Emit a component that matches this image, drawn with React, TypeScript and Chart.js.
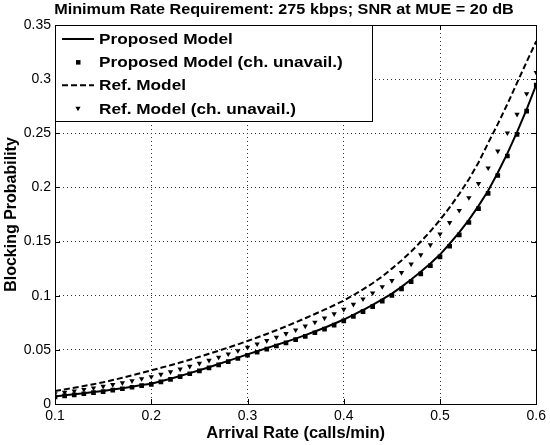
import React, { useEffect, useRef } from "react";
import { Chart, registerables } from "chart.js";

Chart.register(...registerables);

const TITLE = "Minimum Rate Requirement: 275 kbps; SNR at MUE = 20 dB";
const X_LABEL = "Arrival Rate (calls/min)";
const Y_LABEL = "Blocking Probability";
const LEGEND_LABELS = [
  "Proposed Model",
  "Proposed Model (ch. unavail.)",
  "Ref. Model",
  "Ref. Model (ch. unavail.)",
];

const X_MIN = 0.1;
const X_MAX = 0.6;
const X_STEP = 0.1;
const Y_MIN = 0;
const Y_MAX = 0.35;
const Y_STEP = 0.05;

const arrivalRate = [
  0.10, 0.11, 0.12, 0.13, 0.14, 0.15, 0.16, 0.17, 0.18, 0.19,
  0.20, 0.21, 0.22, 0.23, 0.24, 0.25, 0.26, 0.27, 0.28, 0.29,
  0.30, 0.31, 0.32, 0.33, 0.34, 0.35, 0.36, 0.37, 0.38, 0.39,
  0.40, 0.41, 0.42, 0.43, 0.44, 0.45, 0.46, 0.47, 0.48, 0.49,
  0.50, 0.51, 0.52, 0.53, 0.54, 0.55, 0.56, 0.57, 0.58, 0.59,
  0.60,
];

const proposedModel = [
  0.007, 0.008, 0.009, 0.010, 0.011, 0.012, 0.0133, 0.0146, 0.016, 0.0175,
  0.0187, 0.021, 0.0234, 0.0259, 0.0285, 0.0312, 0.034, 0.0369, 0.0398, 0.0428,
  0.0458, 0.0487, 0.0516, 0.0545, 0.0574, 0.0604, 0.0636, 0.0669, 0.0704, 0.0741,
  0.078, 0.0823, 0.0868, 0.0916, 0.0967, 0.102, 0.1082, 0.115, 0.1222, 0.1298,
  0.138, 0.148, 0.1585, 0.170, 0.183, 0.197, 0.2135, 0.2315, 0.251, 0.272,
  0.295,
];

const proposedUnavail = [
  0.0065, 0.0075, 0.0085, 0.0095, 0.0105, 0.0115, 0.0128, 0.0141, 0.0155, 0.017,
  0.0182, 0.0204, 0.0228, 0.0253, 0.0279, 0.0306, 0.0333, 0.0362, 0.0391, 0.042,
  0.045, 0.0478, 0.0507, 0.0536, 0.0564, 0.0594, 0.0625, 0.0658, 0.0692, 0.0729,
  0.0767, 0.0809, 0.0853, 0.09, 0.095, 0.1002, 0.1063, 0.113, 0.1201, 0.1277,
  0.1358, 0.1457, 0.1562, 0.1676, 0.1805, 0.1945, 0.211, 0.229, 0.249, 0.2705,
  0.2945,
];

const refModel = [
  0.012, 0.0135, 0.015, 0.0166, 0.0183, 0.020, 0.0221, 0.0242, 0.0264, 0.0287,
  0.031, 0.0334, 0.0358, 0.0383, 0.0409, 0.0436, 0.0464, 0.0492, 0.0521, 0.0551,
  0.0582, 0.0614, 0.0647, 0.0681, 0.0717, 0.0754, 0.0792, 0.0831, 0.0871, 0.0912,
  0.0955, 0.1005, 0.1058, 0.1115, 0.1178, 0.125, 0.1325, 0.1408, 0.1498, 0.1595,
  0.170, 0.1815, 0.194, 0.2075, 0.223, 0.241, 0.2585, 0.277, 0.2965, 0.316,
  0.335,
];

const refUnavail = [
  0.0095, 0.0107, 0.012, 0.0134, 0.0148, 0.0163, 0.0179, 0.0196, 0.0214, 0.0233,
  0.0252, 0.0274, 0.0297, 0.0322, 0.0348, 0.0375, 0.0403, 0.0432, 0.0462, 0.0492,
  0.0523, 0.0554, 0.0585, 0.0617, 0.065, 0.0684, 0.0719, 0.0755, 0.0793, 0.0832,
  0.0874, 0.092, 0.097, 0.1025, 0.1083, 0.114, 0.1213, 0.1292, 0.1377, 0.147,
  0.157, 0.1675, 0.1787, 0.1905, 0.2035, 0.218, 0.2335, 0.2503, 0.2675, 0.2865,
  0.306,
];

const FONT = "'Liberation Sans', Arial, Helvetica, sans-serif";

const toPoints = (ys: number[]) => arrivalRate.map((x, i) => ({ x, y: ys[i] }));

const fmt = (v: number) => String(Number(v.toFixed(2)));

function stretchText(ctx: CanvasRenderingContext2D, text: string, x: number, y: number, sx: number, align: CanvasTextAlign) {
  ctx.save();
  ctx.translate(x, y);
  ctx.scale(sx, 1);
  ctx.textAlign = align;
  ctx.fillText(text, 0, 0);
  ctx.restore();
}

const framePlugin = {
  id: "frame",
  beforeDraw(chart: any) {
    const ctx = chart.ctx;
    ctx.save();
    ctx.fillStyle = "#fff";
    ctx.fillRect(0, 0, chart.width, chart.height);
    ctx.restore();
  },
  afterDatasetsDraw(chart: any) {
    const { ctx, chartArea, scales } = chart;
    const { left, right, top, bottom } = chartArea;
    ctx.save();
    ctx.strokeStyle = "#000";
    ctx.lineWidth = 1;
    ctx.setLineDash([]);
    const tl = 5;
    ctx.beginPath();
    scales.x.ticks.forEach((t: any) => {
      const px = Math.round(scales.x.getPixelForValue(t.value)) + 0.5;
      ctx.moveTo(px, bottom);
      ctx.lineTo(px, bottom - tl);
      ctx.moveTo(px, top);
      ctx.lineTo(px, top + tl);
    });
    scales.y.ticks.forEach((t: any) => {
      const py = Math.round(scales.y.getPixelForValue(t.value)) + 0.5;
      ctx.moveTo(left, py);
      ctx.lineTo(left + tl, py);
      ctx.moveTo(right, py);
      ctx.lineTo(right - tl, py);
    });
    ctx.stroke();
    ctx.strokeRect(Math.round(left) + 0.5, Math.round(top) + 0.5, Math.round(right - left), Math.round(bottom - top));
    ctx.restore();
  },
  afterDraw(chart: any) {
    const { ctx, chartArea } = chart;
    const { left, top } = chartArea;
    ctx.save();
    // title
    ctx.fillStyle = "#000";
    ctx.font = `bold 15px ${FONT}`;
    ctx.textBaseline = "middle";
    stretchText(ctx, TITLE, 284, 10, 1.08, "center");

    // legend
    const lx = Math.round(left) + 0.5;
    const ly = Math.round(top) + 0.5;
    const lw = 317;
    const lh = 96;
    ctx.fillStyle = "#fff";
    ctx.fillRect(lx, ly, lw, lh);
    ctx.strokeStyle = "#000";
    ctx.lineWidth = 1;
    ctx.strokeRect(lx, ly, lw, lh);

    const rowY = (i: number) => top + 14 + 23.1 * i;
    const s0 = left + 7;
    const s1 = left + 39;
    const mx = left + 23;
    const tx = left + 44;

    // row 0: solid line
    ctx.lineWidth = 2;
    ctx.beginPath();
    ctx.moveTo(s0, rowY(0));
    ctx.lineTo(s1, rowY(0));
    ctx.stroke();
    // row 1: square marker
    ctx.fillStyle = "#000";
    ctx.fillRect(mx - 2, rowY(1) - 2, 4.5, 4.5);
    // row 2: dashed line
    ctx.setLineDash([6, 3]);
    ctx.beginPath();
    ctx.moveTo(s0, rowY(2));
    ctx.lineTo(s1, rowY(2));
    ctx.stroke();
    ctx.setLineDash([]);
    // row 3: down triangle marker
    ctx.beginPath();
    ctx.moveTo(mx - 2.6, rowY(3) - 1.5);
    ctx.lineTo(mx + 2.6, rowY(3) - 1.5);
    ctx.lineTo(mx, rowY(3) + 3);
    ctx.closePath();
    ctx.fill();

    ctx.font = `bold 15.5px ${FONT}`;
    ctx.textBaseline = "middle";
    LEGEND_LABELS.forEach((lab, i) => stretchText(ctx, lab, tx, rowY(i) + 1, 1.11, "left"));
    ctx.restore();
  },
};

export default function App() {
  const canvasRef = useRef<HTMLCanvasElement | null>(null);

  useEffect(() => {
    document.body.style.margin = "0";
    const canvas = canvasRef.current;
    if (!canvas) return;
    const chart = new Chart(canvas, {
      type: "scatter",
      data: {
        datasets: [
          {
            label: LEGEND_LABELS[0],
            data: toPoints(proposedModel),
            showLine: true,
            borderColor: "#000",
            backgroundColor: "#000",
            borderWidth: 2,
            pointRadius: 0,
            tension: 0,
          },
          {
            label: LEGEND_LABELS[1],
            data: toPoints(proposedUnavail),
            showLine: false,
            borderColor: "#000",
            backgroundColor: "#000",
            pointStyle: "rect",
            pointRadius: 3.3,
            pointBorderWidth: 0,
          },
          {
            label: LEGEND_LABELS[2],
            data: toPoints(refModel),
            showLine: true,
            borderColor: "#000",
            backgroundColor: "#000",
            borderWidth: 2,
            borderDash: [6, 3],
            pointRadius: 0,
            tension: 0,
          },
          {
            label: LEGEND_LABELS[3],
            data: toPoints(refUnavail),
            showLine: false,
            borderColor: "#000",
            backgroundColor: "#000",
            pointStyle: "triangle",
            pointRotation: 180,
            pointRadius: 3.1,
            pointBorderWidth: 0,
          },
        ],
      },
      options: {
        responsive: false,
        animation: false,
        devicePixelRatio: 1,
        layout: { padding: { left: 0, right: 11, top: 25, bottom: 0 } },
        plugins: {
          legend: { display: false },
          title: { display: false },
          tooltip: { enabled: false },
        },
        scales: {
          x: {
            type: "linear",
            min: X_MIN,
            max: X_MAX,
            afterFit: (scale: any) => {
              scale.height = 41;
            },
            ticks: {
              stepSize: X_STEP,
              color: "#000",
              font: { family: FONT, size: 14 },
              padding: 4,
              maxRotation: 0,
              callback: (v: any) => fmt(Number(v)),
            },
            grid: {
              color: "#333",
              lineWidth: 1,
              drawTicks: false,
            },
            border: { display: false, dash: [1, 3] },
            title: {
              display: true,
              text: X_LABEL,
              color: "#000",
              font: { family: FONT, size: 16.5, weight: "bold" },
              padding: { top: 0, bottom: 2 },
            },
          },
          y: {
            type: "linear",
            min: Y_MIN,
            max: Y_MAX,
            afterFit: (scale: any) => {
              scale.width = 55;
            },
            ticks: {
              stepSize: Y_STEP,
              color: "#000",
              font: { family: FONT, size: 14 },
              padding: 4,
              callback: (v: any) => fmt(Number(v)),
            },
            grid: {
              color: "#333",
              lineWidth: 1,
              drawTicks: false,
            },
            border: { display: false, dash: [1, 3] },
            title: {
              display: true,
              text: Y_LABEL,
              color: "#000",
              font: { family: FONT, size: 16, weight: "bold" },
              padding: { top: 2, bottom: 0 },
            },
          },
        },
      },
      plugins: [framePlugin],
    });
    return () => chart.destroy();
  }, []);

  return (
    <div style={{ width: 550, height: 445 }}>
      <canvas ref={canvasRef} width={550} height={445} style={{ display: "block" }} />
    </div>
  );
}
